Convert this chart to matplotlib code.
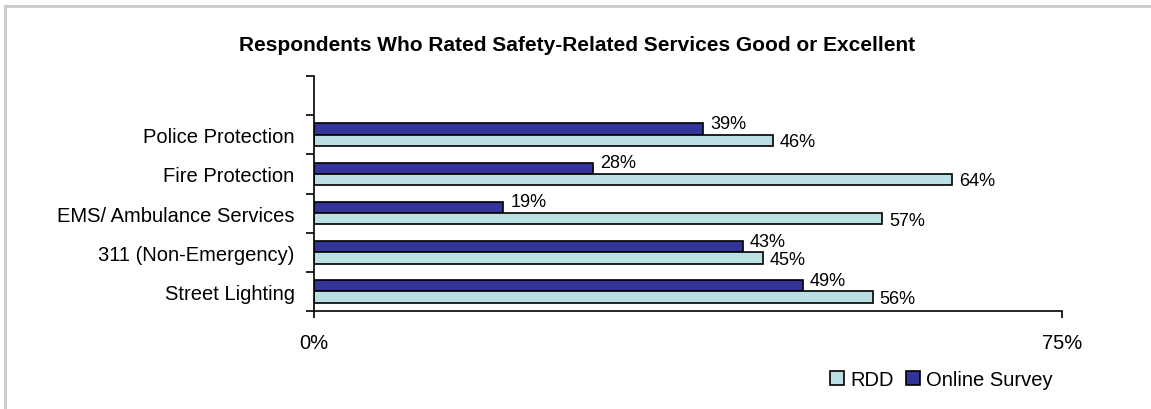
import matplotlib.pyplot as plt
from matplotlib.patches import Rectangle

plt.rcParams['font.family'] = ['Liberation Sans', 'DejaVu Sans']

# Data (top to bottom)
categories = ['Police Protection', 'Fire Protection', 'EMS/ Ambulance Services',
              '311 (Non-Emergency)', 'Street Lighting']
online_survey = [39, 28, 19, 43, 49]
rdd = [46, 64, 57, 45, 56]

online_color = '#333399'
rdd_color = '#BBE0E3'

fig = plt.figure(figsize=(11.51, 4.10), dpi=100)
ax = fig.add_axes([0.2728, 0.239, 0.6499, 0.5732])

n = len(categories)
ypos = [n - 1 - i for i in range(n)]
h = 0.29

ax.barh([y + h / 2 for y in ypos], online_survey, height=h, color=online_color,
        edgecolor='black', linewidth=1.2, label='Online Survey')
ax.barh([y - h / 2 for y in ypos], rdd, height=h, color=rdd_color,
        edgecolor='black', linewidth=1.2, label='RDD')

# value labels
for y, v in zip(ypos, online_survey):
    ax.annotate(f'{v}%', (v, y + h / 2), xytext=(5, 4), textcoords='offset points',
                va='center', ha='left', fontsize=13)
for y, v in zip(ypos, rdd):
    ax.annotate(f'{v}%', (v, y - h / 2), xytext=(5, -1), textcoords='offset points',
                va='center', ha='left', fontsize=13)

ax.set_xlim(0, 75)
ax.set_ylim(-0.5, n + 0.5)
ax.set_xticks([0, 75])
ax.set_xticklabels(['0%', '75%'], fontsize=14.5)
ax.tick_params(axis='x', direction='out', length=5, width=1.2, pad=11)

ax.set_yticks(ypos)
ax.set_yticklabels(categories, fontsize=14.5)
ax.tick_params(axis='y', which='major', length=0, pad=14)
ax.set_yticks([k - 0.5 for k in range(n + 2)], minor=True)
ax.tick_params(axis='y', which='minor', direction='out', length=6, width=1.2)

for s in ['top', 'right']:
    ax.spines[s].set_visible(False)
for s in ['left', 'bottom']:
    ax.spines[s].set_linewidth(1.2)

fig.text(0.501, 0.89, 'Respondents Who Rated Safety-Related Services Good or Excellent',
         ha='center', va='center', fontsize=15, fontweight='bold')

handles, labels = ax.get_legend_handles_labels()
leg = fig.legend(handles[::-1], labels[::-1], loc='center', ncol=2,
                 bbox_to_anchor=(0.818, 0.072), frameon=False, fontsize=14.5,
                 handlelength=0.7, handleheight=0.7, handletextpad=0.3,
                 columnspacing=0.6)

# grey chart-area border (left and top edges visible)
fig.patches.append(Rectangle((5 / 1151, -0.2), 1.2, 1.2 - 7 / 410,
                             transform=fig.transFigure, fill=False,
                             edgecolor='#CCCCCC', linewidth=2.2))

fig.savefig('out.png', dpi=100)
